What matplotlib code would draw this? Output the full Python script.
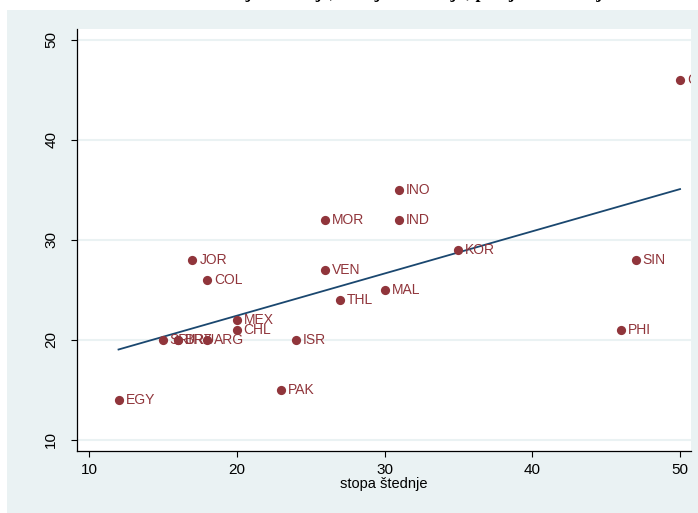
import numpy as np
import matplotlib
matplotlib.use("Agg")
import matplotlib.pyplot as plt
from matplotlib.patches import Rectangle

# Country codes, savings rate (x) and investment rate (y).
countries = ["EGY", "PAK", "JOR", "COL", "MEX", "CHL", "ARG", "ISR",
             "SRI", "URU", "BRZ", "MOR", "VEN", "THL", "MAL", "INO",
             "IND", "KOR", "SIN", "PHI", "CHN"]
savings = [12, 23, 17, 18, 20, 20, 18, 24,
           15, 16, 16, 26, 26, 27, 30, 31,
           31, 35, 47, 46, 50]
investment = [14, 15, 28, 26, 22, 21, 20, 20,
              20, 20, 20, 32, 27, 24, 25, 35,
              32, 29, 28, 21, 46]
yticks = [10, 20, 30, 40, 50]
xticks = [10, 20, 30, 40, 50]

plt.rcParams["font.family"] = ["Liberation Sans", "DejaVu Sans"]

W, H = 698, 513
fig = plt.figure(figsize=(W / 100, H / 100), dpi=100)

# Light outer panel (Stata-like graph region).
fig.patches.append(Rectangle((7 / W, 0), 1 - 7 / W, (H - 10) / H,
                             transform=fig.transFigure,
                             facecolor="#eaf2f3", edgecolor="none",
                             zorder=-1))

# Title, mostly cut off by the top edge of the image.
fig.text(0.53, 1.003, "Odnos investicija i štednje, zemlje u razvoju,"
         " prosjek razdoblja",
         ha="center", va="baseline", fontsize=13, fontweight="bold",
         family="Liberation Serif")

ax = fig.add_axes([77 / W, (H - 451) / H, (691 - 77) / W, (451 - 29) / H])
ax.set_zorder(2)
ax.set_facecolor("white")

ax.set_xlim(9.19, 50.74)
ax.set_ylim(8.9, 51.1)

# Light horizontal grid lines.
for yt in yticks:
    ax.axhline(yt, color="#eaf2f3", lw=1.5, zorder=1)

# Fitted line.
x = np.array(savings, dtype=float)
y = np.array(investment, dtype=float)
b, a = np.polyfit(x, y, 1)
xs = np.array([x.min(), x.max()])
ax.plot(xs, a + b * xs, color="#1a476f", lw=1.3, zorder=2)

# Scatter with labels.
red = "#90353b"
ax.scatter(x, y, s=44, color=red, zorder=3, linewidths=0)
for c, xi, yi in zip(countries, x, y):
    ax.annotate(c, (xi, yi), xytext=(5, 0), textcoords="offset points",
                va="center", ha="left", fontsize=10, color=red,
                clip_on=True, zorder=4)

for side in ["top", "right"]:
    ax.spines[side].set_visible(False)
for side in ["left", "bottom"]:
    ax.spines[side].set_linewidth(0.9)

ax.set_xticks(xticks)
ax.set_yticks(yticks)
ax.tick_params(axis="both", length=4.5, width=0.8, labelsize=11, pad=4)
ax.tick_params(axis="y", pad=9)
for lbl in ax.get_yticklabels():
    lbl.set_rotation(90)
    lbl.set_va("center")
ax.set_xlabel("stopa štednje", fontsize=10.5, labelpad=0)

fig.savefig("out.png", dpi=100)
